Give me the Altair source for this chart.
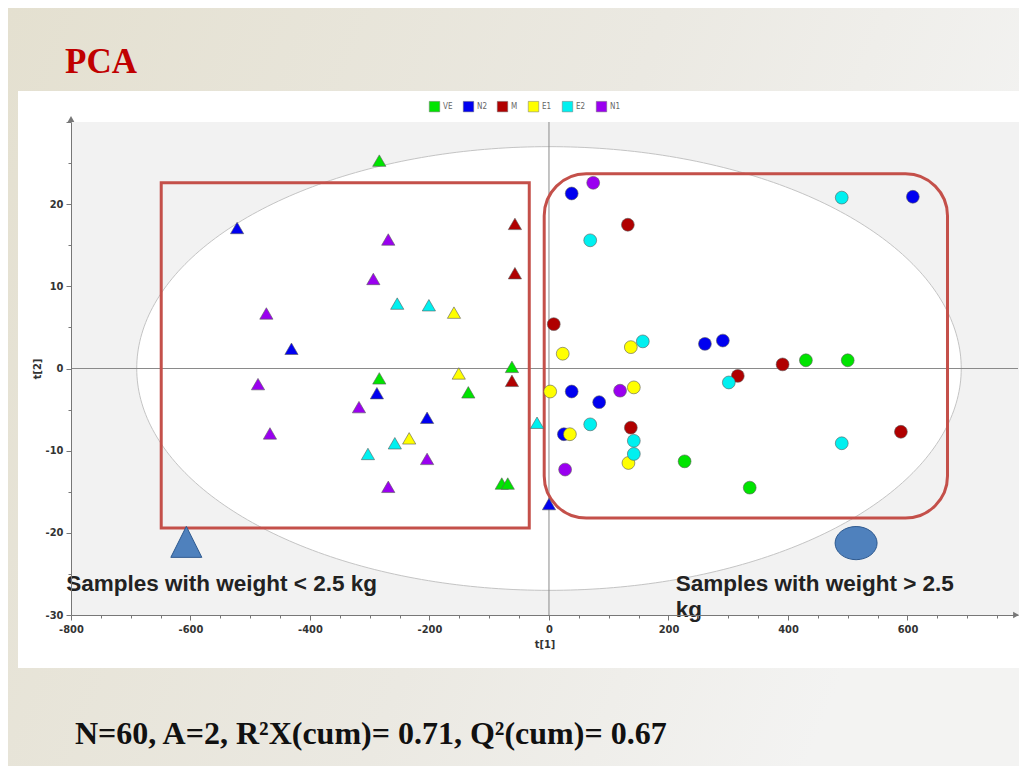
import altair as alt
import pandas as pd

# ---------------- data ----------------
groups = ["VE", "N2", "M", "E1", "E2", "N1"]
group_colors = ["#00e400", "#0000f0", "#b00000", "#ffff00", "#00f0f0", "#9a00f0"]

# triangles (samples with weight < 2.5 kg)
tri_VE_x = [-284, -62, -284, -135, -79, -69]
tri_VE_y = [25.3, 0.2, -1.2, -2.9, -14.0, -14.0]
tri_N2_x = [-522, -431, -288, -204, 0]
tri_N2_y = [17.1, 2.4, -3.0, -6.0, -16.5]
tri_M_x = [-57, -57, -62]
tri_M_y = [17.6, 11.6, -1.5]
tri_E1_x = [-159, -151, -234]
tri_E1_y = [6.8, -0.6, -8.5]
tri_E2_x = [-254, -201, -258, -303, -20]
tri_E2_y = [7.9, 7.7, -9.1, -10.4, -6.6]
tri_N1_x = [-269, -294, -473, -487, -318, -467, -204, -269]
tri_N1_y = [15.7, 10.9, 6.7, -1.9, -4.7, -7.9, -11.0, -14.4]

# circles (samples with weight > 2.5 kg)
cir_VE_x = [430, 500, 227, 336]
cir_VE_y = [1.0, 1.0, -11.3, -14.5]
cir_N2_x = [38, 609, 261, 291, 38, 84, 25]
cir_N2_y = [21.3, 20.9, 3.0, 3.4, -2.8, -4.1, -8.0]
cir_M_x = [132, 8, 391, 316, 137, 589]
cir_M_y = [17.5, 5.4, 0.5, -0.9, -7.2, -7.7]
cir_E1_x = [23, 137, 2, 142, 35, 133]
cir_E1_y = [1.8, 2.6, -2.8, -2.3, -8.0, -11.5]
cir_E2_x = [490, 69, 157, 301, 69, 142, 142, 490]
cir_E2_y = [20.8, 15.6, 3.3, -1.7, -6.8, -8.8, -10.4, -9.1]
cir_N1_x = [74, 119, 27]
cir_N1_y = [22.6, -2.7, -12.3]

tri_sets = {"VE": (tri_VE_x, tri_VE_y), "N2": (tri_N2_x, tri_N2_y), "M": (tri_M_x, tri_M_y),
            "E1": (tri_E1_x, tri_E1_y), "E2": (tri_E2_x, tri_E2_y), "N1": (tri_N1_x, tri_N1_y)}
cir_sets = {"VE": (cir_VE_x, cir_VE_y), "N2": (cir_N2_x, cir_N2_y), "M": (cir_M_x, cir_M_y),
            "E1": (cir_E1_x, cir_E1_y), "E2": (cir_E2_x, cir_E2_y), "N1": (cir_N1_x, cir_N1_y)}

rows = []
for g in groups:
    xs, ys = tri_sets[g]
    for a, b in zip(xs, ys):
        rows.append({"group": g, "marker": "tri", "t1": a, "t2": b})
for g in groups:
    xs, ys = cir_sets[g]
    for a, b in zip(xs, ys):
        rows.append({"group": g, "marker": "cir", "t1": a, "t2": b})
points = pd.DataFrame(rows)

# annotation boxes (data units)
box_x = [-649]
box_x2 = [-33]
box_y = [22.6]
box_y2 = [-19.4]
rbox_x = [-8]
rbox_x2 = [667]
rbox_y = [23.7]
rbox_y2 = [-18.2]

# big legend-like markers
big_tri_x = [-607]
big_tri_y = [-21.1]
big_ell_x = [514]
big_ell_y = [-21.25]

ann_text = ["Samples with weight < 2.5 kg", "Samples with weight > 2.5", "kg"]
ann_x = [-808, 212, 212]
ann_y = [-27.1, -27.1, -30.3]

ellipse_a = 690
ellipse_b = 27

W, H = 947, 493
LBL_FONT = "DejaVu Sans Condensed, Liberation Sans, sans-serif"

# ---------------- scales / axes ----------------
xscale = alt.Scale(domain=[-800, 785], nice=False, zero=False)
yscale = alt.Scale(domain=[-30, 30], nice=False, zero=False)

x_ticks = list(range(-800, 786, 50))
y_ticks = list(range(-30, 31, 5))

xaxis = alt.Axis(
    values=x_ticks,
    labelExpr="(datum.value % 200 == 0 && datum.value <= 600) ? ('' + datum.value) : ''",
    tickSize={"condition": {"test": "datum.value % 200 == 0", "value": 5}, "value": 3},
    grid=False, domainColor="#777", tickColor="#777", labelColor="#333",
    labelFont=LBL_FONT, labelFontWeight="bold", labelFontSize=11,
    labelFlush=False, labelPadding=3, zindex=1,
    title="t[1]", titleFont=LBL_FONT, titleFontSize=11,
    titleFontWeight="bold", titleColor="#333", titlePadding=4,
)
yaxis = alt.Axis(
    values=y_ticks,
    labelExpr="(datum.value % 10 == 0 && datum.value < 30) ? ('' + datum.value) : ''",
    tickSize={"condition": {"test": "datum.value % 10 == 0", "value": 5}, "value": 3},
    grid=False, domainColor="#777", tickColor="#777", labelColor="#333",
    labelFont=LBL_FONT, labelFontWeight="bold", labelFontSize=11,
    labelFlush=False, labelPadding=3, zindex=1,
    title="t[2]", titleFont=LBL_FONT, titleFontSize=11,
    titleFontWeight="bold", titleColor="#333", titlePadding=3,
)


def X(field, **kw):
    return alt.X(field, type="quantitative", scale=xscale, axis=xaxis, **kw)


def Y(field, **kw):
    return alt.Y(field, type="quantitative", scale=yscale, axis=yaxis, **kw)


one = pd.DataFrame({"k": [0]})

# ---------------- layers ----------------
bg = alt.Chart(one).mark_rect(
    fill=alt.LinearGradient(
        gradient="linear", x1=0, y1=0, x2=1, y2=0.3,
        stops=[alt.GradientStop(offset=0, color="#e4e0d0"),
               alt.GradientStop(offset=0.6, color="#ebe9e2"),
               alt.GradientStop(offset=1, color="#f3f3f2")]),
).encode(x=alt.value(-63), x2=alt.value(W + 1), y=alt.value(-114), y2=alt.value(H + 151))

panel = alt.Chart(one).mark_rect(fill="#ffffff").encode(
    x=alt.value(-53), x2=alt.value(W + 1), y=alt.value(-31), y2=alt.value(H + 53))

plotbg = alt.Chart(one).mark_rect(fill="#f2f2f2").encode(
    x=alt.value(0), x2=alt.value(W + 1), y=alt.value(0), y2=alt.value(H))

ell_fill = alt.Chart(alt.sequence(0, 181, 1, as_="deg")).transform_calculate(
    ex=f"{ellipse_a}*cos(datum.deg*PI/180)",
    ey=f"{ellipse_b}*sin(datum.deg*PI/180)",
    ey2=f"-{ellipse_b}*sin(datum.deg*PI/180)",
).mark_area(fill="#ffffff", opacity=1).encode(x=X("ex:Q"), y=Y("ey:Q"), y2="ey2:Q")

ell_line = alt.Chart(alt.sequence(0, 361, 1, as_="deg")).transform_calculate(
    ex=f"{ellipse_a}*cos(datum.deg*PI/180)",
    ey=f"{ellipse_b}*sin(datum.deg*PI/180)",
).mark_line(color="#c4c4c4", strokeWidth=1).encode(
    x=X("ex:Q"), y=Y("ey:Q"), order="deg:Q")

zero_df = pd.DataFrame({"z": [0]})
hzero = alt.Chart(zero_df).mark_rule(color="#8a8a8a", strokeWidth=1).encode(
    y=Y("z:Q"), x=alt.value(0), x2=alt.value(W))
vzero = alt.Chart(zero_df).mark_rule(color="#8a8a8a", strokeWidth=1).encode(
    x=X("z:Q"), y=alt.value(0), y2=alt.value(H))

box_df = pd.DataFrame({"x": box_x, "x2": box_x2, "y": box_y, "y2": box_y2})
box = alt.Chart(box_df).mark_rect(fillOpacity=0, stroke="#c4504a", strokeWidth=3).encode(
    x=X("x:Q"), x2="x2:Q", y=Y("y:Q"), y2="y2:Q")

rbox_df = pd.DataFrame({"x": rbox_x, "x2": rbox_x2, "y": rbox_y, "y2": rbox_y2})
rbox = alt.Chart(rbox_df).mark_rect(fillOpacity=0, stroke="#c4504a", strokeWidth=3,
                                    cornerRadius=42).encode(
    x=X("x:Q"), x2="x2:Q", y=Y("y:Q"), y2="y2:Q")

pts = alt.Chart(points).mark_point(filled=True, opacity=1, stroke="#5a5a5a",
                                   strokeWidth=0.6).encode(
    x=X("t1:Q"),
    y=Y("t2:Q"),
    color=alt.Color("group:N", scale=alt.Scale(domain=groups, range=group_colors),
                    legend=alt.Legend(title=None, orient="none", legendX=358, legendY=-21,
                                      direction="horizontal", symbolType="square",
                                      symbolSize=110, symbolStrokeColor="#777",
                                      symbolStrokeWidth=0.5, labelFontSize=8,
                                      labelColor="#666", labelFont=LBL_FONT,
                                      columnPadding=9, labelOffset=3, padding=0)),
    shape=alt.Shape("marker:N", scale=alt.Scale(domain=["tri", "cir"],
                                                range=["triangle-up", "circle"]), legend=None),
    size=alt.Size("marker:N", scale=alt.Scale(domain=["tri", "cir"], range=[175, 165]),
                  legend=None),
)

big_tri = alt.Chart(pd.DataFrame({"x": big_tri_x, "y": big_tri_y})).mark_point(
    shape="M0,-1L-1,1L1,1Z", size=961, filled=True, fill="#4f81bd", stroke="#2f5a8f",
    strokeWidth=1, opacity=1).encode(x=X("x:Q"), y=Y("y:Q"))

big_ell = alt.Chart(pd.DataFrame({"x": big_ell_x, "y": big_ell_y})).mark_point(
    shape="M-1,0A1,0.79 0 1,0 1,0A1,0.79 0 1,0 -1,0Z", size=1764, filled=True,
    fill="#4f81bd", stroke="#2f5a8f", strokeWidth=1, opacity=1).encode(x=X("x:Q"), y=Y("y:Q"))

ann = alt.Chart(pd.DataFrame({"x": ann_x, "y": ann_y, "t": ann_text})).mark_text(
    align="left", baseline="alphabetic", font="Liberation Sans", fontWeight="bold",
    fontSize=22.5, color="#222222").encode(x=X("x:Q"), y=Y("y:Q"), text="t:N")

arrow_up = alt.Chart(one).mark_point(shape="triangle-up", size=45, filled=True,
                                     color="#777", opacity=1).encode(
    x=alt.value(0), y=alt.value(-3))
arrow_right = alt.Chart(one).mark_point(shape="triangle-right", size=45, filled=True,
                                        color="#777", opacity=1).encode(
    x=alt.value(W - 2), y=alt.value(H))

title = alt.Chart(one).mark_text(
    text="PCA", align="left", baseline="alphabetic", font="Liberation Serif",
    fontWeight="bold", fontSize=35, color="#c00000").encode(
    x=alt.value(-6), y=alt.value(-49))

footer = alt.Chart(one).mark_text(
    text="N=60, A=2, R\u00b2X(cum)= 0.71, Q\u00b2(cum)= 0.67", align="left",
    baseline="alphabetic", font="Liberation Serif", fontWeight="bold", fontSize=32,
    color="#111111").encode(x=alt.value(4), y=alt.value(622))

chart = alt.layer(
    bg, panel, plotbg, ell_fill, ell_line, hzero, vzero, box, rbox, pts,
    big_tri, big_ell, ann, arrow_up, arrow_right, title, footer,
).properties(
    width=W, height=H,
    padding={"left": 63, "top": 114, "right": 1, "bottom": 151},
    autosize=alt.AutoSizeParams(type="none"),
    background="#e8e5da",
).configure_view(stroke=None)

chart.save("out.html", embed_options={"renderer": "svg", "actions": False})
